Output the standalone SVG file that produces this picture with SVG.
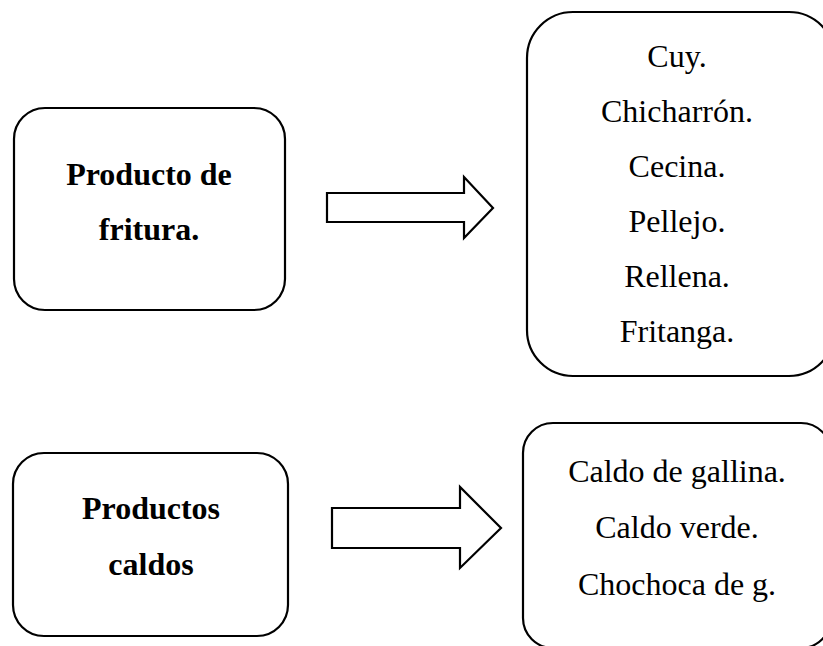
<svg xmlns="http://www.w3.org/2000/svg" width="823" height="646" viewBox="0 0 823 646">
<style>
.box{fill:#fff;stroke:#000;stroke-width:2.2}
.arr{fill:#fff;stroke:#000;stroke-width:2.2;stroke-linejoin:miter}
text{font-family:"Liberation Serif","Times New Roman",serif;font-size:32px;fill:#000;text-anchor:middle}
.b{font-weight:bold}
</style>
<rect width="823" height="646" fill="#fff"/>
<g id="node-fritura">
<rect class="box" x="14" y="108" width="271" height="202" rx="31" ry="31"/>
<text class="b" x="149" y="185">Producto de</text>
<text class="b" x="149" y="240">fritura.</text>
</g>
<g id="node-fritura-list">
<rect class="box" x="527" y="12" width="308" height="364" rx="46" ry="46"/>
<text x="677" y="67">Cuy.</text>
<text x="677" y="122">Chicharrón.</text>
<text x="677" y="177">Cecina.</text>
<text x="677" y="232">Pellejo.</text>
<text x="677" y="287">Rellena.</text>
<text x="677" y="342">Fritanga.</text>
</g>
<g id="node-caldos">
<rect class="box" x="13" y="453" width="275" height="183" rx="31" ry="31"/>
<text class="b" x="151" y="519">Productos</text>
<text class="b" x="151" y="575">caldos</text>
</g>
<g id="node-caldos-list">
<rect class="box" x="523" y="423" width="308" height="225" rx="30" ry="30"/>
<text x="677" y="482">Caldo de gallina.</text>
<text x="677" y="538">Caldo verde.</text>
<text x="677" y="595">Chochoca de g.</text>
</g>
<g id="connectors">
<polygon class="arr" points="327,193 464,193 464,177 493,208 464,238 464,222 327,222"/>
<polygon class="arr" points="332,508 460,508 460,487 501,528 460,568 460,548 332,548"/>
</g>
</svg>
